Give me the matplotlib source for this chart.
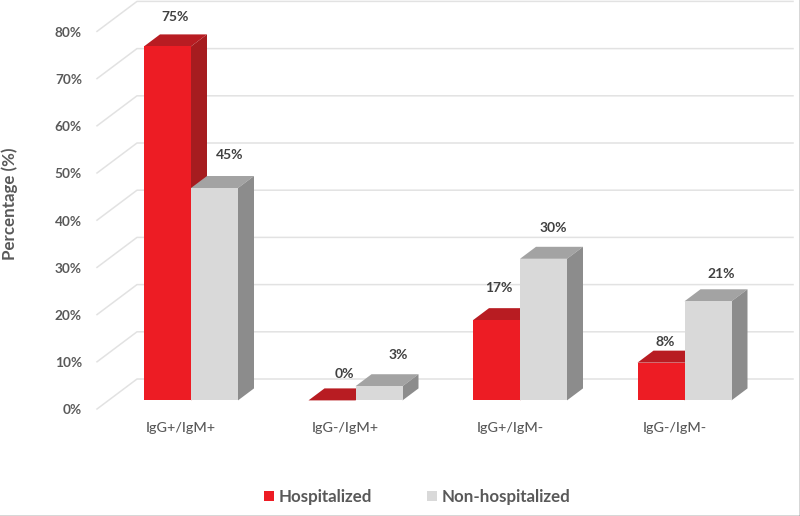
import matplotlib
matplotlib.use("Agg")
import matplotlib.pyplot as plt
from matplotlib.lines import Line2D
from matplotlib.patches import Polygon, Rectangle
from matplotlib.transforms import ScaledTranslation

categories = ["IgG+/IgM+", "IgG-/IgM+", "IgG+/IgM-", "IgG-/IgM-"]
hospitalized = [75, 0, 17, 8]
non_hospitalized = [45, 3, 30, 21]
hosp_labels = ["75%", "0%", "17%", "8%"]
non_labels = ["45%", "3%", "30%", "21%"]
y_ticks = [0, 10, 20, 30, 40, 50, 60, 70, 80]
y_tick_labels = [f"{v}%" for v in y_ticks]

# label placement (pixel offsets from the bar's top-front centre)
hosp_offsets = [(8, 29), (12, 26), (2, 32), (4, 21)]
non_offsets = [(15, 33), (19, 31), (10, 31), (13, 27)]

FONT = "Lato"
TXT = "#595959"
DARK = "#404040"
RED, RED_TOP, RED_SIDE = "#ED1C24", "#B81C22", "#A61C1F"
GREY, GREY_TOP, GREY_SIDE = "#D9D9D9", "#A3A3A3", "#8C8C8C"
GRID = "#E2E2E2"

W, H = 800, 516
fig = plt.figure(figsize=(W / 100, H / 100), dpi=100, facecolor="white")
L, R, T, B = 90, 800, 0, 407
ax = fig.add_axes([L / W, 1 - B / H, (R - L) / W, (B - T) / H])
ax.patch.set_alpha(0)
for s in ax.spines.values():
    s.set_visible(False)

PX_X = 164.5          # pixels per category
PX_Y = 4.72           # pixels per percent
BASE_PX = 400.4
CENTER_PX = 191
ax.set_xlim((L - CENTER_PX) / PX_X, (R - CENTER_PX) / PX_X)
ax.set_ylim((BASE_PX - B) / PX_Y, (BASE_PX - T) / PX_Y)

bar_w = 47 / PX_X
dx, dy = 16 / PX_X, 12 / PX_Y

# walls
wall_back_y = 21.4 / PX_Y
wall_front_y = -8.6 / PX_Y
wall_x0 = (97 - CENTER_PX) / PX_X
wall_x1 = (137 - CENTER_PX) / PX_X
grid_x1 = (793 - CENTER_PX) / PX_X
for v in y_ticks:
    ax.plot([wall_x0, wall_x1, grid_x1],
            [v + wall_front_y, v + wall_back_y, v + wall_back_y],
            color=GRID, lw=1.1, zorder=1, clip_on=False, solid_joinstyle="round")


def box(left, value, front, top, side, z):
    ax.bar(left, value, bar_w, align="edge", color=front, lw=0, zorder=z + 0.2, clip_on=False)
    r = left + bar_w
    ax.add_patch(Polygon([(left, value), (r, value), (r + dx, value + dy), (left + dx, value + dy)],
                         closed=True, fc=top, ec="none", zorder=z, clip_on=False))
    ax.add_patch(Polygon([(r, 0), (r, value), (r + dx, value + dy), (r + dx, dy)],
                         closed=True, fc=side, ec="none", zorder=z, clip_on=False))


for i, (a, b) in enumerate(zip(hospitalized, non_hospitalized)):
    box(i - bar_w, a, RED, RED_TOP, RED_SIDE, 2)
    box(i, b, GREY, GREY_TOP, GREY_SIDE, 3)
    for left, val, lab, off in ((i - bar_w, a, hosp_labels[i], hosp_offsets[i]),
                                (i, b, non_labels[i], non_offsets[i])):
        ax.annotate(lab, xy=(left + bar_w / 2, val),
                    xytext=(off[0] * 0.72, off[1] * 0.72), textcoords="offset points",
                    ha="center", va="center", fontsize=10, fontweight="bold",
                    family=FONT, color=DARK, zorder=6, annotation_clip=False)

# axis ticks
ax.set_yticks(y_ticks)
ax.set_yticklabels(y_tick_labels, fontsize=9.8, fontweight="bold", family=FONT, color=TXT)
ax.tick_params(axis="y", length=0, pad=5.8)
shift = ScaledTranslation(0, -9 / 100, fig.dpi_scale_trans)
for lab in ax.get_yticklabels():
    lab.set_transform(lab.get_transform() + shift)

ax.set_xticks([i - 10 / PX_X for i in range(len(categories))])
ax.set_xticklabels(categories, fontsize=10.4, family=FONT, color=TXT, fontweight="medium")
ax.tick_params(axis="x", length=0, pad=11)

fig.text(10 / W, 1 - 204 / H, "Percentage (%)", rotation=90, ha="center", va="center",
         fontsize=12.2, fontweight="bold", family=FONT, color=TXT)

# legend
for px, col, name in ((264, RED, "Hospitalized"), (427, GREY, "Non-hospitalized")):
    fig.add_artist(Rectangle((px / W, 1 - 501 / H), 10 / W, 10 / H, transform=fig.transFigure,
                             fc=col, ec="none"))
    fig.text((px + 15) / W, 1 - 497 / H, name, ha="left", va="center", fontsize=12.2,
             fontweight="bold", family=FONT, color=TXT)

# picture border
fig.add_artist(Line2D([0, 1, 1], [0.5 / H, 0.5 / H, 1], transform=fig.transFigure,
                      color="#333333", lw=1))

fig.savefig("out.png", dpi=100)
